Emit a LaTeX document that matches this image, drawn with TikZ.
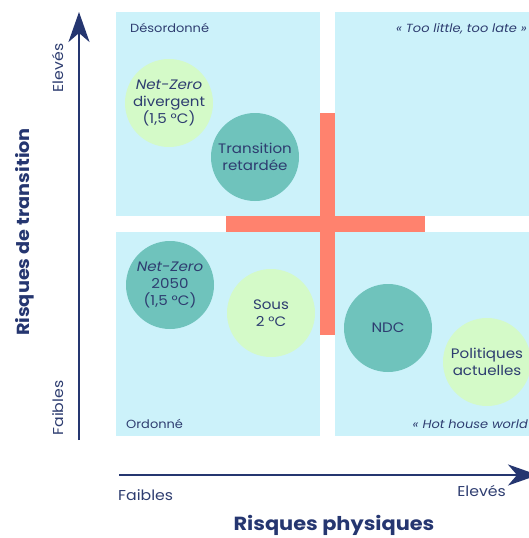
\documentclass[tikz,border=0pt]{standalone}
\usepackage{fontspec}
\setmainfont{Poppins}[FakeStretch=1.1]
\usetikzlibrary{arrows.meta}
\definecolor{quadbg}{HTML}{CCF2FA}
\definecolor{lightgreen}{HTML}{D4FAC8}
\definecolor{tealc}{HTML}{6FC3BC}
\definecolor{coral}{HTML}{FF826E}
\definecolor{navy}{HTML}{253670}
\definecolor{navytext}{HTML}{2E3D70}
\tikzset{
  quadrant/.style={fill=quadbg},
  crossbar/.style={fill=coral},
  bubble/.style={circle, minimum size=88pt, inner sep=0pt, align=center, text=navytext, font=\fontsize{13.7}{17}\selectfont},
  lightbubble/.style={bubble, fill=lightgreen},
  tealbubble/.style={bubble, fill=tealc},
  qlabel/.style={text=navytext, font=\fontsize{11.8}{13}\selectfont, inner sep=0pt},
  ticklabel/.style={text=navytext, font=\fontsize{14.3}{16}\selectfont, inner sep=0pt},
  axistitle/.style={text=navy, font=\fontsize{17.5}{20}\selectfont\bfseries, inner sep=0pt},
  axis/.style={draw=navy, line width=2.6pt, -{Stealth[length=30pt,width=21pt,inset=9pt]}},
}
\begin{document}
\begin{tikzpicture}[x=1pt,y=-1pt]
\useasboundingbox (0,0) rectangle (529,538);
% quadrants
\fill[quadrant] (116,12) rectangle (320,216);
\fill[quadrant] (335,12) rectangle (540,216);
\fill[quadrant] (116,232) rectangle (320,436);
\fill[quadrant] (335,232) rectangle (540,436);
% cross
\fill[crossbar] (226,216) rectangle (425,232);
\fill[crossbar] (320,113) rectangle (335,335);
% quadrant labels
\node[qlabel, anchor=west] (des) at (130,28) {Désordonné};
\node[qlabel, anchor=east] (tltl) at (527,29) {\itshape « Too little, too late »};
\node[qlabel, anchor=west] (ord) at (126,424) {Ordonné};
\node[qlabel, anchor=east] (hhw) at (528,424) {\itshape « Hot house world};
% bubbles
\node[lightbubble] (nzd) at (169,103) {\textit{Net-Zero}\\divergent\\(1,5 °C)};
\node[tealbubble] (tr) at (255,157) {Transition\\retardée};
\node[tealbubble] (nz50) at (170,285) {\textit{Net-Zero}\\2050\\(1,5 °C)};
\node[lightbubble] (s2) at (271,313) {Sous\\2 °C};
\node[tealbubble] (ndc) at (388,328) {NDC};
\node[lightbubble] (pa) at (487,362) {Politiques\\actuelles};
% axes
\coordinate (ybot) at (79,440);
\coordinate (ytop) at (79,12);
\draw[axis] (ybot) -- (ytop);
\coordinate (xleft) at (119,475);
\coordinate (xright) at (538,475);
\draw[axis] (xleft) -- (xright);
% axis labels
\node[ticklabel, rotate=90] (yhigh) at (58,68) {Elevés};
\node[ticklabel, rotate=90] (ylow) at (58,408) {Faibles};
\node[axistitle, rotate=90] (ytitle) at (25,232) {Risques de transition};
\node[ticklabel, anchor=west] (xlow) at (118,495) {Faibles};
\node[ticklabel, anchor=east] (xhigh) at (506,491) {Elevés};
\node[axistitle, anchor=base, font=\fontsize{19}{21}\selectfont\bfseries] (xtitle) at (334,530) {Risques physiques};
\end{tikzpicture}
\end{document}
